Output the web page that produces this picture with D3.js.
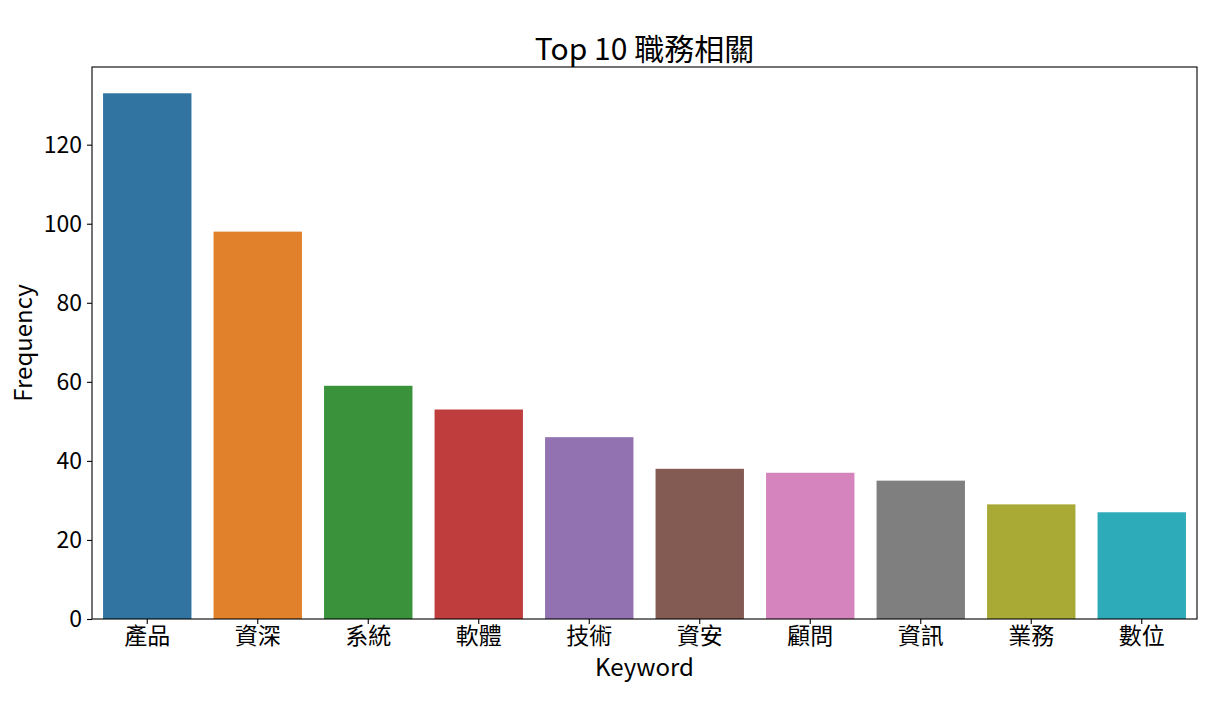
<!DOCTYPE html>
<html>
<head>
<meta charset="utf-8">
<script src="https://cdn.jsdelivr.net/npm/d3@7"></script>
<style>
  body { margin: 0; background: #fff; }
  text { font-family: "Noto Sans CJK TC", "Noto Sans", sans-serif; fill: #000; }
</style>
</head>
<body>
<svg id="chart" width="1221" height="711"></svg>
<script>
const keywords = ['產品', '資深', '系統', '軟體', '技術', '資安', '顧問', '資訊', '業務', '數位'];
const counts = [133, 98, 59, 53, 46, 38, 37, 35, 29, 27];
const yTicks = [0, 20, 40, 60, 80, 100, 120];
const barColors = ['#3274a1', '#e1812c', '#3a923a', '#c03d3e', '#9372b2',
                   '#845b53', '#d684bd', '#7f7f7f', '#a9aa35', '#2eabb8'];

const margin = {top: 67, right: 24, bottom: 92, left: 92};
const width = 1221 - margin.left - margin.right;
const height = 711 - margin.top - margin.bottom;

const svg = d3.select('#chart');
const g = svg.append('g').attr('transform', `translate(${margin.left},${margin.top})`);

const x = d3.scaleBand().domain(keywords).range([0, width]).paddingInner(0.2).paddingOuter(0.1);
const y = d3.scaleLinear().domain([0, d3.max(counts) * 1.05]).range([height, 0]);
const color = d3.scaleOrdinal(keywords, barColors);

g.selectAll('rect.bar')
  .data(keywords)
  .enter()
  .append('rect')
  .attr('class', 'bar')
  .attr('x', d => x(d))
  .attr('width', x.bandwidth())
  .attr('y', (d, i) => y(counts[i]))
  .attr('height', (d, i) => height - y(counts[i]))
  .attr('fill', d => color(d));

// axes
const xAxis = g.append('g')
  .attr('transform', `translate(0,${height})`)
  .call(d3.axisBottom(x).tickSize(5).tickPadding(4));
const yAxis = g.append('g')
  .call(d3.axisLeft(y).tickValues(yTicks).tickSize(5).tickPadding(5));

[xAxis, yAxis].forEach(a => {
  a.selectAll('.domain').remove();
  a.selectAll('.tick line').attr('stroke', '#000').attr('stroke-width', 1.1);
  a.selectAll('.tick text').style('font-size', '23px').attr('fill', '#000');
});

// frame
g.append('rect')
  .attr('width', width).attr('height', height)
  .attr('fill', 'none').attr('stroke', '#000').attr('stroke-width', 1.1);

// labels
svg.append('text')
  .attr('x', margin.left + width / 2).attr('y', 60)
  .attr('text-anchor', 'middle')
  .style('font-size', '30px')
  .text('Top 10 職務相關');

svg.append('text')
  .attr('x', margin.left + width / 2).attr('y', 676)
  .attr('text-anchor', 'middle')
  .style('font-size', '24px')
  .text('Keyword');

svg.append('text')
  .attr('transform', `translate(32,${margin.top + height / 2}) rotate(-90)`)
  .attr('text-anchor', 'middle')
  .style('font-size', '24px')
  .text('Frequency');
</script>
</body>
</html>
